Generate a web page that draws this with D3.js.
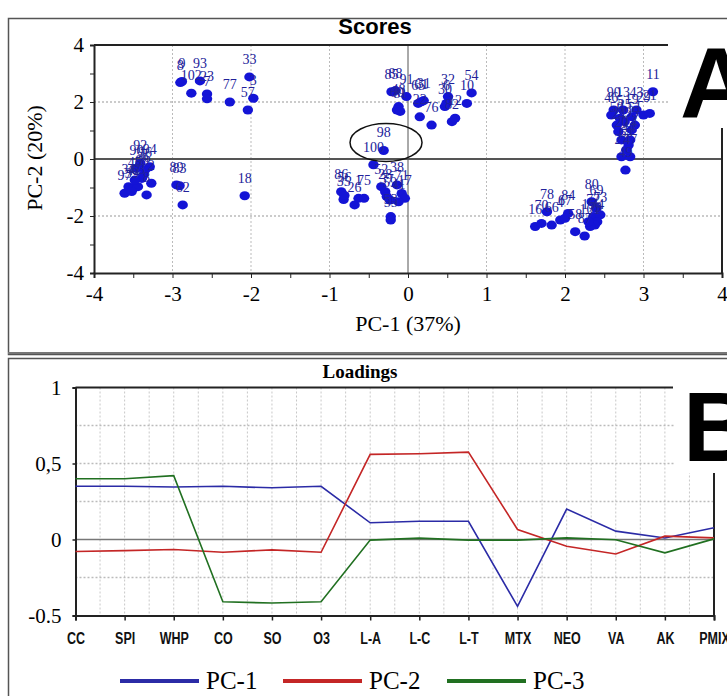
<!DOCTYPE html>
<html>
<head>
<meta charset="utf-8">
<script src="https://cdn.jsdelivr.net/npm/d3@7"></script>
<style>
  body { margin: 0; background: #fff; }
  svg { display: block; }
</style>
</head>
<body>
<svg id="chart" width="727" height="696"></svg>
<script>
// ---- Scores data (PC-1, PC-2) ----
const sampleIds = [
  '8', '9', '93', '102', '23', '7', '77', '33', '3', '57',
  '92', '94', '90', '96', '36', '68', '97', '34', '42', '2', '8', '63', '39', '45',
  '89', '83', '62', '18',
  '88', '85', '91', '48', '60', '81', '65', '61', '31', '22', '76', '30', '6', '32', '82', '12', '10', '54',
  '98', '100',
  '86', '35', '56', '26', '1', '75', '52', '28', '37', '59', '38', '71', '17', '41', '53', '55',
  '11', '90', '46', '5', '13', '25', '19', '29', '21', '43', '24', '95', '20', '14', '44', '27', '47', '49', '50', '51', '64',
  '16', '70', '78', '66', '4', '84', '67', '58', '87', '80', '69', '72', '73', '74', '79', '101', '15'
];
const pc1Scores = [
  -2.90, -2.88, -2.65, -2.76, -2.56, -2.56, -2.27, -2.02, -1.97, -2.04,
  -3.41, -3.29, -3.46, -3.35, -3.37, -3.39, -3.61, -3.56, -3.50, -3.27, -3.33, -3.44, -3.52, -3.48,
  -2.95, -2.91, -2.87, -2.08,
  -0.16, -0.21, -0.02, -0.12, -0.14, -0.10, 0.13, 0.17, 0.20, 0.15, 0.30, 0.47, 0.49, 0.51, 0.56, 0.60, 0.75, 0.81,
  -0.31, -0.44,
  -0.85, -0.82, -0.81, -0.68, -0.63, -0.56, -0.34, -0.29, -0.27, -0.23, -0.14, -0.08, -0.04, -0.12, -0.22, -0.22,
  3.12, 2.62, 2.59, 2.70, 2.74, 2.76, 2.85, 3.00, 3.08, 2.91, 2.68, 2.85, 2.72, 2.83, 2.81, 2.72, 2.83, 2.77, 2.66, 2.89, 2.78,
  1.62, 1.70, 1.77, 1.83, 1.94, 2.04, 2.00, 2.13, 2.25, 2.34, 2.40, 2.36, 2.45, 2.41, 2.38, 2.32, 2.30
];
const pc2Scores = [
  2.68, 2.72, 2.74, 2.31, 2.28, 2.11, 2.00, 2.88, 2.13, 1.72,
  -0.15, -0.27, -0.33, -0.39, -0.56, -0.68, -1.20, -0.97, -1.03, -0.85, -1.26, -0.97, -1.14, -0.74,
  -0.91, -0.94, -1.61, -1.29,
  2.40, 2.36, 2.19, 1.84, 1.72, 1.67, 1.95, 2.01, 2.05, 1.48, 1.19, 1.84, 1.95, 2.19, 1.31, 1.43, 1.95, 2.32,
  0.30, -0.20,
  -1.15, -1.42, -1.28, -1.61, -1.38, -1.38, -0.97, -1.15, -1.32, -1.44, -0.91, -1.21, -1.38, -1.50, -2.02, -2.14,
  2.36, 1.72, 1.54, 1.43, 1.72, 1.31, 1.48, 1.54, 1.60, 1.72, 0.96, 1.02, 0.67, 0.67, 0.49, 0.08, 0.08, -0.39, 1.19, 1.19, 0.32,
  -2.37, -2.26, -1.85, -2.32, -2.14, -1.91, -2.08, -2.55, -2.70, -1.50, -1.73, -2.02, -1.96, -2.20, -2.32, -2.37, -2.20
];
const scoreTicks = [-4, -3, -2, -1, 0, 1, 2, 3, 4];
const scoreYTicks = [-4, -2, 0, 2, 4];
const circledCentre = [-0.28, 0.58];

// ---- Loadings data ----
const variables = ['CC', 'SPI', 'WHP', 'CO', 'SO', 'O3', 'L-A', 'L-C', 'L-T', 'MTX', 'NEO', 'VA', 'AK', 'PMIX'];
const pc1Load = [0.35, 0.35, 0.345, 0.35, 0.34, 0.35, 0.11, 0.12, 0.12, -0.44, 0.20, 0.055, 0.01, 0.077];
const pc2Load = [-0.079, -0.073, -0.066, -0.084, -0.068, -0.084, 0.56, 0.564, 0.575, 0.066, -0.044, -0.095, 0.022, 0.011];
const pc3Load = [0.40, 0.40, 0.42, -0.41, -0.418, -0.41, -0.004, 0.009, -0.004, -0.004, 0.011, -0.002, -0.088, 0.004];
const loadTicks = [1, 0.5, 0, -0.5];
const loadTickLabels = ['1', '0,5', '0', '-0.5'];
const seriesNames = ['PC-1', 'PC-2', 'PC-3'];
const seriesColors = ['#2b2ba6', '#c42626', '#217021'];

const svg = d3.select('#chart');
const serif = '"Liberation Serif", "Times New Roman", serif';
const sans = '"Liberation Sans", Arial, sans-serif';

// panel frames
svg.append('rect').attr('x', 8.5).attr('y', 18.5).attr('width', 740).attr('height', 336)
    .attr('fill', 'none').attr('stroke', '#555').attr('stroke-width', 1.5);
svg.append('rect').attr('x', 8.5).attr('y', 358.5).attr('width', 740).attr('height', 345)
    .attr('fill', 'none').attr('stroke', '#555').attr('stroke-width', 1.5);
svg.append('line').attr('x1', 8).attr('x2', 727).attr('y1', 353).attr('y2', 353)
    .attr('stroke', '#777').attr('stroke-width', 2);

// =========== A: Scores ===========
const x = d3.scaleLinear().domain([-4, 4]).range([94, 722]);
const y = d3.scaleLinear().domain([-4, 4]).range([273, 45]);

const gA = svg.append('g');

// dotted grid
gA.selectAll('.vgrid')
  .data(scoreTicks.filter(d => d !== 0 && Math.abs(d) !== 4))
  .enter().append('line')
    .attr('x1', d => x(d)).attr('x2', d => x(d))
    .attr('y1', y(4)).attr('y2', y(-4))
    .attr('stroke', '#bbb').attr('stroke-dasharray', '2,2');
gA.selectAll('.hgrid')
  .data([2, -2])
  .enter().append('line')
    .attr('x1', x(-4)).attr('x2', x(4))
    .attr('y1', d => y(d)).attr('y2', d => y(d))
    .attr('stroke', '#bbb').attr('stroke-width', 1.5).attr('stroke-dasharray', '2,2');

// origin lines
gA.append('line').attr('x1', x(0)).attr('x2', x(0)).attr('y1', y(4)).attr('y2', y(-4))
    .attr('stroke', '#555').attr('stroke-width', 1);
gA.append('line').attr('x1', x(-4)).attr('x2', x(4)).attr('y1', y(0)).attr('y2', y(0))
    .attr('stroke', '#555').attr('stroke-width', 2);

// frame lines
gA.append('line').attr('x1', x(-4)).attr('x2', 668).attr('y1', y(4)).attr('y2', y(4))
    .attr('stroke', '#222').attr('stroke-width', 2);
gA.append('line').attr('x1', x(4)).attr('x2', x(4)).attr('y1', y(4)).attr('y2', y(-4))
    .attr('stroke', '#222').attr('stroke-width', 2);

// axes
const xAxis = gA.append('g')
    .attr('transform', `translate(0,${y(-4)})`)
    .call(d3.axisBottom(x).tickValues(d3.range(-4, 4.01, 0.5)).tickSize(5)
      .tickFormat(d => Number.isInteger(d) ? String(d) : ''));
const yAxis = gA.append('g')
    .attr('transform', `translate(${x(-4)},0)`)
    .call(d3.axisLeft(y).tickValues(d3.range(-4, 4.01, 1)).tickSize(4)
      .tickFormat(d => scoreYTicks.includes(d) ? String(d) : ''));
[xAxis, yAxis].forEach(a => {
  a.select('.domain').attr('stroke', '#222').attr('stroke-width', 2);
  a.selectAll('.tick line').attr('stroke', '#222');
  a.selectAll('text').style('font-family', serif).style('font-size', '21px').style('fill', '#000');
});
xAxis.selectAll('text').attr('dy', '0.95em');
yAxis.selectAll('text').attr('x', -10);

// points
gA.selectAll('.pt')
  .data(sampleIds)
  .enter().append('ellipse')
    .attr('cx', (d, i) => x(pc1Scores[i]))
    .attr('cy', (d, i) => y(pc2Scores[i]))
    .attr('rx', 5.2).attr('ry', 4.5)
    .attr('fill', '#1414d6');
gA.selectAll('.lbl')
  .data(sampleIds)
  .enter().append('text')
    .attr('x', (d, i) => x(pc1Scores[i]))
    .attr('y', (d, i) => y(pc2Scores[i]) - 13)
    .attr('text-anchor', 'middle')
    .style('font-family', serif).style('font-size', '14px').style('fill', '#22229a')
    .text(d => d);

// circled samples
gA.append('ellipse')
    .attr('cx', x(circledCentre[0])).attr('cy', y(circledCentre[1]))
    .attr('rx', 36).attr('ry', 19)
    .attr('fill', 'none').attr('stroke', '#111').attr('stroke-width', 1.5);

// titles
gA.append('text').attr('x', 375).attr('y', 34).attr('text-anchor', 'middle')
    .style('font-family', sans).style('font-size', '22px').style('font-weight', 'bold')
    .text('Scores');
gA.append('text').attr('x', 408).attr('y', 331).attr('text-anchor', 'middle')
    .style('font-family', serif).style('font-size', '22px')
    .text('PC-1 (37%)');
gA.append('text').attr('transform', 'translate(42,158) rotate(-90)').attr('text-anchor', 'middle')
    .style('font-family', serif).style('font-size', '22px')
    .text('PC-2 (20%)');

// panel letter
svg.append('rect').attr('x', 670).attr('y', 20).attr('width', 57).attr('height', 108).attr('fill', '#fff');
svg.append('text').attr('x', 680).attr('y', 118)
    .style('font-family', sans).style('font-size', '100px').style('font-weight', 'bold')
    .text('A');

// =========== B: Loadings ===========
const xl = d3.scalePoint().domain(variables).range([75.5, 714]);
const yl = d3.scaleLinear().domain([-0.5, 1]).range([615.5, 387.5]);
const step = xl.step();

const gB = svg.append('g');

// vertical dotted grid at every half step
gB.selectAll('.vg')
  .data(d3.range(1, (variables.length - 1) * 2))
  .enter().append('line')
    .attr('x1', d => xl(variables[0]) + d * step / 2)
    .attr('x2', d => xl(variables[0]) + d * step / 2)
    .attr('y1', yl(1)).attr('y2', yl(-0.5))
    .attr('stroke', '#c8c8c8').attr('stroke-dasharray', '2,2');
gB.selectAll('.hg')
  .data([0.75, 0.5, 0.25, -0.25])
  .enter().append('line')
    .attr('x1', xl('CC')).attr('x2', xl('PMIX'))
    .attr('y1', d => yl(d)).attr('y2', d => yl(d))
    .attr('stroke', '#bbb').attr('stroke-width', 1.5).attr('stroke-dasharray', '2,2');
gB.append('line').attr('x1', xl('CC')).attr('x2', xl('PMIX')).attr('y1', yl(0)).attr('y2', yl(0))
    .attr('stroke', '#777').attr('stroke-width', 1.5);

// frame
gB.append('line').attr('x1', xl('CC')).attr('x2', 673).attr('y1', yl(1)).attr('y2', yl(1))
    .attr('stroke', '#222').attr('stroke-width', 2);
gB.append('line').attr('x1', xl('PMIX')).attr('x2', xl('PMIX')).attr('y1', yl(1)).attr('y2', yl(-0.5))
    .attr('stroke', '#222').attr('stroke-width', 2);

const xlAxis = gB.append('g')
    .attr('transform', `translate(0,${yl(-0.5)})`)
    .call(d3.axisBottom(xl).tickSize(5).tickPadding(12));
const ylAxis = gB.append('g')
    .attr('transform', `translate(${xl('CC')},0)`)
    .call(d3.axisLeft(yl).tickValues(loadTicks).tickSize(3)
      .tickFormat((d, i) => loadTickLabels[i]));
[xlAxis, ylAxis].forEach(a => {
  a.select('.domain').attr('stroke', '#222').attr('stroke-width', 2);
  a.selectAll('.tick line').attr('stroke', '#222').attr('stroke-width', 1.5);
});
// condensed bold category names
xlAxis.selectAll('text')
    .style('font-family', sans)
    .style('font-size', '16px').style('font-weight', 'bold').style('fill', '#111')
    .each(function() {
      const w = this.getComputedTextLength();
      d3.select(this).attr('textLength', w * 0.78).attr('lengthAdjust', 'spacingAndGlyphs');
    });
ylAxis.selectAll('text').attr('x', -14)
    .style('font-family', serif).style('font-size', '21px').style('fill', '#000');

// loading lines
const loadSeries = [pc1Load, pc2Load, pc3Load];
const line = d3.line()
    .x((d, i) => xl(variables[i]))
    .y(d => yl(d));
gB.selectAll('.load')
  .data(loadSeries)
  .enter().append('path')
    .attr('d', d => line(d))
    .attr('fill', 'none')
    .attr('stroke', (d, i) => seriesColors[i])
    .attr('stroke-width', 1.6);

gB.append('text').attr('x', 360).attr('y', 378).attr('text-anchor', 'middle')
    .style('font-family', serif).style('font-size', '19px').style('font-weight', 'bold')
    .text('Loadings');

// legend
const legX = [120, 283, 447];
const leg = gB.selectAll('.leg')
  .data(seriesNames)
  .enter().append('g')
    .attr('transform', (d, i) => `translate(${legX[i]},681)`);
leg.append('line').attr('x1', 0).attr('x2', 79).attr('y1', 0).attr('y2', 0)
    .attr('stroke', (d, i) => seriesColors[i]).attr('stroke-width', 4);
leg.append('text').attr('x', 86).attr('y', 8)
    .style('font-family', serif).style('font-size', '25px')
    .text(d => d);

svg.append('rect').attr('x', 675).attr('y', 361).attr('width', 52).attr('height', 112).attr('fill', '#fff');
svg.append('text').attr('x', 683).attr('y', 461)
    .style('font-family', sans).style('font-size', '98px').style('font-weight', 'bold')
    .text('B');
</script>
</body>
</html>
